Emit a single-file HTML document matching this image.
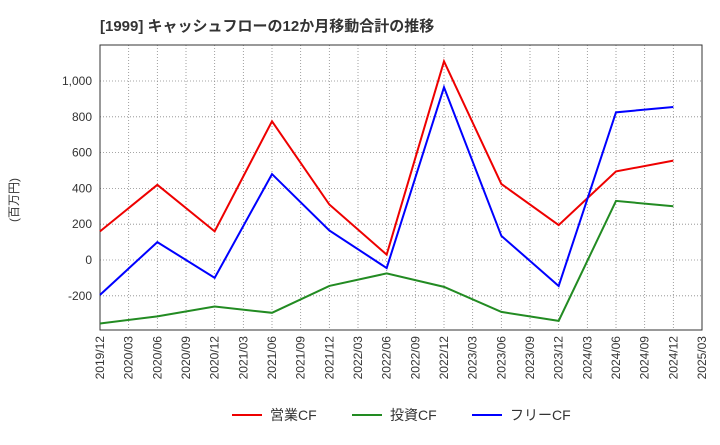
<!DOCTYPE html>
<html><head><meta charset="utf-8"><style>
body{margin:0;background:#fff;font-family:"Liberation Sans","Noto Sans CJK JP",sans-serif}
</style></head><body>
<svg width="720" height="440" xmlns="http://www.w3.org/2000/svg">
<text x="100" y="31" font-size="15" font-weight="bold" fill="#333">[1999]  キャッシュフローの12か月移動合計の推移</text>
<text x="18" y="200" font-size="12" fill="#333" transform="rotate(-90 18 200)" text-anchor="middle">(百万円)</text>
<g id="grid"></g><g id="axes"></g><g id="lines"></g>
<g>
<line x1="232" y1="415" x2="262" y2="415" stroke="#e00" stroke-width="2"/><text x="270" y="420" font-size="14" fill="#333">営業CF</text>
<line x1="352" y1="415" x2="382" y2="415" stroke="#228B22" stroke-width="2"/><text x="390" y="420" font-size="14" fill="#333">投資CF</text>
<line x1="472" y1="415" x2="502" y2="415" stroke="#00f" stroke-width="2"/><text x="510" y="420" font-size="14" fill="#333">フリーCF</text>
</g>
</svg>
<script>
const xLabels=["2019/12","2020/03","2020/06","2020/09","2020/12","2021/03","2021/06","2021/09","2021/12","2022/03","2022/06","2022/09","2022/12","2023/03","2023/06","2023/09","2023/12","2024/03","2024/06","2024/09","2024/12","2025/03"];
const yTicks=[-200,0,200,400,600,800,1000];
const pointIdx=[0,2,4,6,8,10,12,14,16,18,20];
const operatingCF=[160,420,160,775,310,30,1110,425,195,495,555];
const investingCF=[-355,-315,-260,-295,-145,-75,-150,-290,-340,330,300];
const freeCF=[-195,100,-100,480,165,-45,965,135,-145,825,855];
const NS="http://www.w3.org/2000/svg";
const L=100,R=702,T=45,B=330;
const x=i=>L+i*(R-L)/(xLabels.length-1);
const y=v=>260-v*0.179;
function mk(tag,attrs,parent){const e=document.createElementNS(NS,tag);for(const k in attrs)e.setAttribute(k,attrs[k]);document.getElementById(parent).appendChild(e);return e;}
xLabels.forEach((lab,i)=>{
 const g=mk('line',{x1:x(i),x2:x(i),y1:T,y2:B,stroke:'#888','stroke-width':0.8,'stroke-dasharray':'1,2'},'grid');
 
 
 const t=mk('text',{x:0,y:0,'font-size':12,fill:'#333','text-anchor':'end',transform:`translate(${x(i)+4},${B+6}) rotate(-90)`},'axes');
 t.textContent=lab;
 
 
});
yTicks.forEach(v=>{
 const g=mk('line',{x1:L,x2:R,y1:y(v),y2:y(v),stroke:'#888','stroke-width':0.8,'stroke-dasharray':'1,2'},'grid');
 
 
 const t=mk('text',{x:L-8,y:y(v)+4,'font-size':12,fill:'#333','text-anchor':'end'},'axes');
 t.textContent=v.toLocaleString('en-US');
 
 
});
const f=mk('rect',{x:L,y:T,width:R-L,height:B-T,fill:'none',stroke:'#333','stroke-width':1},'axes');


[[operatingCF,'#e00','operating-cf-line'],[investingCF,'#228B22','investing-cf-line'],[freeCF,'#00f','free-cf-line']].forEach(([d,c,n])=>{
 const p=mk('polyline',{points:d.map((v,k)=>x(pointIdx[k])+','+y(v)).join(' '),fill:'none',stroke:c,'stroke-width':2},'lines');
 
 
});
</script>
</body></html>
